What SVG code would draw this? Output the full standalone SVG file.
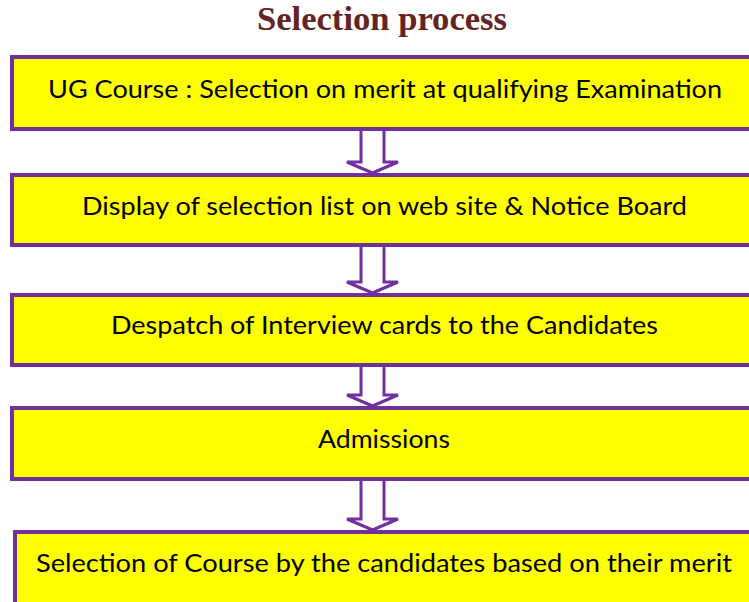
<svg xmlns="http://www.w3.org/2000/svg" width="749" height="602" viewBox="0 0 749 602">
<style>
.box{fill:#FFFF00;stroke:#7030A0;stroke-width:4}
.lbl{font-family:Lato,"Open Sans","Liberation Sans",sans-serif;font-size:25.5px;fill:#000;text-anchor:middle}
.arr{fill:#FFFFFF;stroke:#7030A0;stroke-width:3;stroke-linejoin:miter}
.title{font-family:"Liberation Serif","Times New Roman",serif;font-weight:bold;font-size:34px;fill:#632423;text-anchor:middle}
</style>
<rect width="749" height="602" fill="#FFFFFF"/>
<text id="title" class="title" x="382" y="30" textLength="250" lengthAdjust="spacingAndGlyphs">Selection process</text>
<g id="connectors">
<path class="arr" d="M361,128 L361,162 L347,162 L372.5,173 L398,162 L384,162 L384,128"/>
<path class="arr" d="M361,245 L361,282 L347,282 L372.5,293 L398,282 L384,282 L384,245"/>
<path class="arr" d="M361,365 L361,395 L347,395 L372.5,406 L398,395 L384,395 L384,365"/>
<path class="arr" d="M361,479 L361,519 L347,519 L372.5,530 L398,519 L384,519 L384,479"/>
</g>
<g id="node1">
<rect class="box" x="12" y="57" width="760" height="72"/>
<text class="lbl" x="385" y="97.5" textLength="674" lengthAdjust="spacingAndGlyphs">UG Course : Selection on merit at qualifying Examination</text>
</g>
<g id="node2">
<rect class="box" x="12" y="175" width="760" height="70"/>
<text class="lbl" x="384.5" y="215" textLength="605" lengthAdjust="spacingAndGlyphs">Display of selection list on web site &amp; Notice Board</text>
</g>
<g id="node3">
<rect class="box" x="12" y="295" width="760" height="70"/>
<text class="lbl" x="384.5" y="334" textLength="547" lengthAdjust="spacingAndGlyphs">Despatch of Interview cards to the Candidates</text>
</g>
<g id="node4">
<rect class="box" x="12" y="408" width="760" height="71"/>
<text class="lbl" x="384" y="448" textLength="132" lengthAdjust="spacingAndGlyphs">Admissions</text>
</g>
<g id="node5">
<rect class="box" x="15" y="532" width="760" height="80"/>
<text class="lbl" x="384" y="572" textLength="696" lengthAdjust="spacingAndGlyphs">Selection of Course by the candidates based on their merit</text>
</g>
</svg>
